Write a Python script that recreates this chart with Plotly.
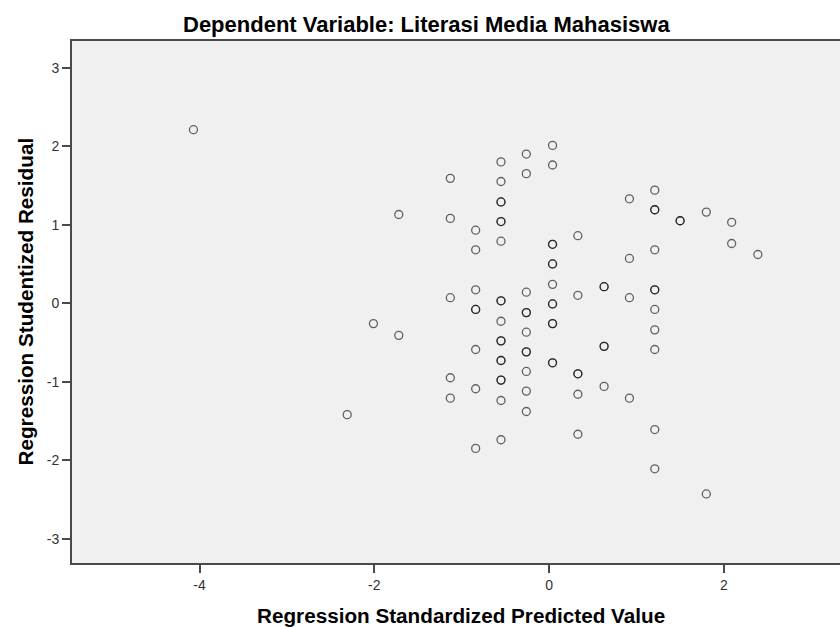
import plotly.graph_objects as go

# Regression Standardized Predicted Value (x) and Studentized Residual (y)
pred = (
    [-4.07, -2.31, -2.01, -1.72, -1.72]
    + [-1.13] * 5
    + [-0.84] * 8
    + [-0.55] * 18
    + [-0.26] * 11
    + [0.04] * 13
    + [0.33] * 6
    + [0.63] * 5
    + [0.92] * 4
    + [1.21] * 11
    + [1.50] * 2
    + [1.80] * 2
    + [2.09] * 2
    + [2.39]
)
resid = (
    [2.21, -1.42, -0.26, 1.13, -0.41]
    + [1.59, 1.08, 0.07, -0.95, -1.21]
    + [0.93, 0.68, 0.17, -0.08, -0.08, -0.59, -1.09, -1.85]
    + [1.80, 1.55, 1.29, 1.29, 1.04, 1.04, 0.79, 0.03, 0.03, -0.23, -0.48, -0.48,
       -0.73, -0.73, -0.98, -0.98, -1.24, -1.74]
    + [1.90, 1.65, 0.14, -0.12, -0.12, -0.37, -0.62, -0.62, -0.87, -1.12, -1.38]
    + [2.01, 1.76, 0.75, 0.75, 0.50, 0.50, 0.24, -0.01, -0.01, -0.26, -0.26, -0.76, -0.76]
    + [0.86, 0.10, -0.90, -0.90, -1.16, -1.67]
    + [0.21, 0.21, -0.55, -0.55, -1.06]
    + [1.33, 0.57, 0.07, -1.21]
    + [1.44, 1.19, 1.19, 0.68, 0.17, 0.17, -0.08, -0.34, -0.59, -1.61, -2.11]
    + [1.05, 1.05]
    + [1.16, -2.43]
    + [1.03, 0.76]
    + [0.62]
)

x_ticks = [-4, -2, 0, 2]
x_tick_labels = ["-4", "-2", "0", "2"]
y_ticks = [-3, -2, -1, 0, 1, 2, 3]
y_tick_labels = ["-3", "-2", "-1", "0", "1", "2", "3"]

title_text = "Dependent Variable: Literasi Media Mahasiswa"
x_title = "Regression Standardized Predicted Value"
y_title = "Regression Studentized Residual"

FONT = "Arial, 'Liberation Sans', sans-serif"
AXIS_COLOR = "#4a4a4a"

fig = go.Figure()
fig.add_trace(go.Scatter(
    x=pred, y=resid, mode="markers",
    marker=dict(symbol="circle-open", size=8, color="black", opacity=0.6,
                line=dict(width=1.3, color="black")),
    hoverinfo="x+y", showlegend=False,
))

fig.update_layout(
    width=840, height=627,
    margin=dict(l=72, r=0, t=41, b=64),
    paper_bgcolor="white",
    plot_bgcolor="#f0f0f0",
    font=dict(family=FONT, color="#333333"),
    xaxis=dict(
        range=[-5.46, 3.33], tickvals=x_ticks, ticktext=x_tick_labels,
        ticks="outside", ticklen=8,
        tickwidth=1.5, tickcolor=AXIS_COLOR, showgrid=False, zeroline=False,
        showline=True, linecolor=AXIS_COLOR, linewidth=1.8, mirror=True,
        tickfont=dict(size=14, color="#333333"),
    ),
    yaxis=dict(
        range=[-3.31, 3.34], tickvals=y_ticks, ticktext=y_tick_labels,
        ticks="outside", ticklen=8,
        tickwidth=1.5, tickcolor=AXIS_COLOR, showgrid=False, zeroline=False,
        showline=True, linecolor=AXIS_COLOR, linewidth=1.8, mirror=False,
        tickfont=dict(size=14, color="#333333"),
    ),
    annotations=[
        dict(text=title_text, xref="paper", yref="paper", x=0.4622, y=1.031,
             xanchor="center", yanchor="middle", showarrow=False,
             font=dict(size=22, color="black", family=FONT, weight="bold")),
        dict(text=x_title, xref="paper", yref="paper", x=0.5065, y=-0.1006,
             xanchor="center", yanchor="middle", showarrow=False,
             font=dict(size=20.7, color="black", family=FONT, weight="bold")),
        dict(text=y_title, xref="paper", yref="paper", x=-0.0612, y=0.501,
             xanchor="center", yanchor="middle", showarrow=False, textangle=-90,
             font=dict(size=20.7, color="black", family=FONT, weight="bold")),
    ],
)

fig.write_html(
    "out.html",
    config={"displayModeBar": False},
    post_script="document.body.style.margin='0';document.body.style.overflow='hidden';",
)
